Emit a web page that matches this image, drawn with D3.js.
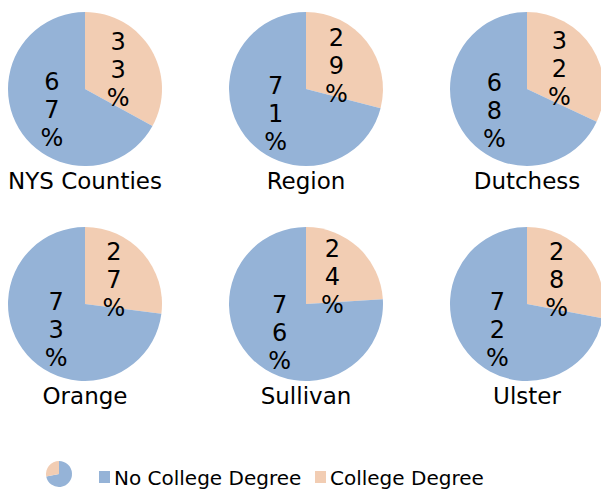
<!DOCTYPE html>
<html>
<head>
<meta charset="utf-8">
<script src="https://cdn.jsdelivr.net/npm/d3@7"></script>
<style>
  body { margin: 0; background: #fff; }
  text { font-family: "DejaVu Sans", sans-serif; fill: #000; }
</style>
</head>
<body>
<svg id="chart" width="601" height="489"></svg>
<script>
    // data
    var regions = ["NYS Counties", "Region", "Dutchess", "Orange", "Sullivan", "Ulster"];
    var college = [33, 29, 32, 27, 24, 28];
    var noCollege = [67, 71, 68, 73, 76, 72];
    var seriesNames = ["No College Degree", "College Degree"];

    var colors = d3.scaleOrdinal()
        .domain(["College Degree", "No College Degree"])
        .range(["#f2cdb3", "#95b3d7"]);

    var svg = d3.select("#chart"),
        radius = 77;

    // 3 columns x 2 rows
    var x = d3.scalePoint().domain([0, 1, 2]).range([85, 527]);
    var y = d3.scalePoint().domain([0, 1]).range([89, 304]);

    var pie = d3.pie().sort(null).value(function (d) { return d.value; });
    var arc = d3.arc().innerRadius(0).outerRadius(radius);

    function slices(i) {
        return pie([
            {name: "College Degree", value: college[i]},
            {name: "No College Degree", value: noCollege[i]}
        ]);
    }

    var cell = svg.selectAll(".cell")
        .data(regions)
        .enter()
        .append("g")
        .attr("class", "cell")
        .attr("transform", function (d, i) {
            return "translate(" + x(i % 3) + "," + y(Math.floor(i / 3)) + ")";
        });

    cell.selectAll("path")
        .data(function (d, i) { return slices(i); })
        .enter()
        .append("path")
        .attr("d", arc)
        .style("fill", function (d) { return colors(d.data.name); });

    // labels wrap one character per line, like the original
    var lineH = 28;
    cell.selectAll(".label")
        .data(function (d, i) { return slices(i); })
        .enter()
        .append("text")
        .attr("class", "label")
        .attr("transform", function (d) { return "translate(" + arc.centroid(d) + ")"; })
        .attr("text-anchor", "middle")
        .style("font-size", "24px")
        .each(function (d) {
            var chars = (d.data.value + "%").split("");
            var t = d3.select(this);
            chars.forEach(function (c, k) {
                t.append("tspan")
                    .attr("x", 0)
                    .attr("y", (k - (chars.length - 1) / 2) * lineH + 9)
                    .text(c);
            });
        });

    // region names
    cell.append("text")
        .attr("text-anchor", "middle")
        .attr("y", 100)
        .style("font-size", "23px")
        .text(function (d) { return d; });

    // legend
    var legend = svg.append("g").attr("transform", "translate(0,477)");

    var icon = legend.append("g").attr("transform", "translate(59,-3)");
    icon.selectAll("path")
        .data(pie([
            {name: "No College Degree", value: 72},
            {name: "College Degree", value: 28}
        ]))
        .enter()
        .append("path")
        .attr("d", d3.arc().innerRadius(0).outerRadius(13))
        .style("fill", function (d) { return colors(d.data.name); });

    var legendX = [99, 315];
    var item = legend.selectAll(".item")
        .data(seriesNames)
        .enter()
        .append("g")
        .attr("class", "item")
        .attr("transform", function (d, i) { return "translate(" + legendX[i] + ",0)"; });

    item.append("rect")
        .attr("y", -6)
        .attr("width", 11)
        .attr("height", 12)
        .style("fill", function (d) { return colors(d); });

    item.append("text")
        .attr("x", 15)
        .attr("y", 8)
        .style("font-size", "20px")
        .text(function (d) { return d; });
</script>
</body>
</html>
